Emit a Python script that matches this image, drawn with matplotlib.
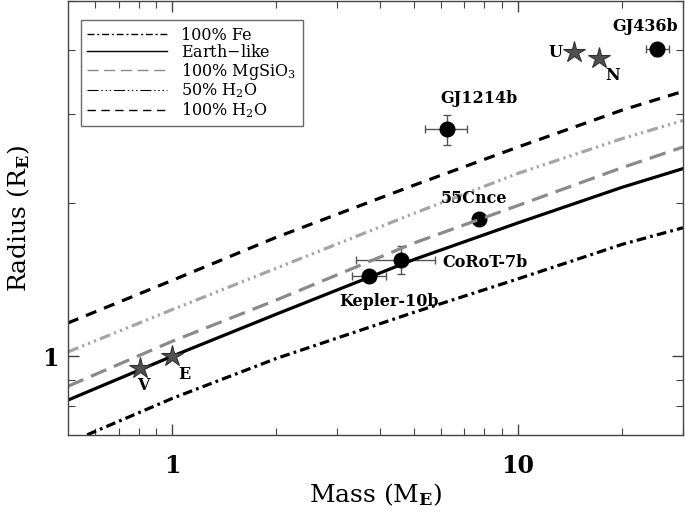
import matplotlib
matplotlib.use("Agg")
import matplotlib.pyplot as plt
from matplotlib.lines import Line2D
from matplotlib.ticker import FixedLocator, NullFormatter, FixedFormatter

plt.rcParams['font.family'] = ['DejaVu Serif']
plt.rcParams['mathtext.fontset'] = 'dejavuserif'
plt.rcParams['lines.scale_dashes'] = False

# --- model curves (mass in Earth masses, radius in Earth radii) ---
mass_grid = [0.5, 1, 2, 5, 10, 20, 30]
r_fe      = [0.675, 0.826, 0.99, 1.22, 1.42, 1.66, 1.79]
r_earth   = [0.82, 1.00, 1.21, 1.55, 1.83, 2.15, 2.34]
r_mgsio3  = [0.873, 1.07, 1.29, 1.67, 1.98, 2.35, 2.58]
r_h2o50   = [1.02, 1.235, 1.49, 1.91, 2.29, 2.68, 2.91]
r_h2o100  = [1.163, 1.41, 1.714, 2.17, 2.58, 3.05, 3.32]

# --- solar system planets ---
ss_names = ['V', 'E', 'U', 'N']
ss_mass  = [0.805, 1.0, 14.5, 17.1]
ss_rad   = [0.948, 1.0, 3.97, 3.86]

# --- exoplanets ---
exo_names = ['GJ436b', 'GJ1214b', '55Cnce', 'CoRoT-7b', 'Kepler-10b']
exo_mass  = [25.2, 6.24, 7.69, 4.59, 3.70]
exo_rad   = [4.02, 2.80, 1.86, 1.55, 1.44]
exo_mlo   = [1.7, 0.84, 0.0, 1.19, 0.39]
exo_mhi   = [2.1, 0.87, 0.0, 1.15, 0.44]
exo_rlo   = [0.12, 0.19, 0.0, 0.10, 0.03]
exo_rhi   = [0.12, 0.18, 0.0, 0.10, 0.03]

fig = plt.figure(figsize=(6.85, 5.11), dpi=100)
ax = fig.add_axes([68/685, 1 - 435/511, 615/685, 434/511])
ax.set_xscale('log')
ax.set_yscale('log')
ax.set_xlim(0.5, 30)
ax.set_ylim(0.7, 5.0)

# error bars + exoplanets (drawn beneath the model curves)
ax.errorbar(exo_mass, exo_rad, xerr=[exo_mlo, exo_mhi], yerr=[exo_rlo, exo_rhi],
            fmt='none', ecolor='#555555', elinewidth=1.0, capsize=3, capthick=1.0, zorder=1.2)
ax.plot(exo_mass, exo_rad, 'o', color='black', ms=10.5, zorder=1.5)

lw = 2.3
ax.plot(mass_grid, r_fe, color='black', lw=lw, dashes=(7, 3, 2, 3), zorder=2)
ax.plot(mass_grid, r_earth, color='black', lw=lw, zorder=2)
ax.plot(mass_grid, r_mgsio3, color='#8a8a8a', lw=lw, dashes=(12, 6), zorder=2)
ax.plot(mass_grid, r_h2o50, color='#a5a5a5', lw=lw, dashes=(8, 3, 1.6, 3, 1.6, 3, 1.6, 3), zorder=2)
ax.plot(mass_grid, r_h2o100, color='black', lw=lw, dashes=(8, 6), zorder=2)

# solar system stars
ax.plot(ss_mass, ss_rad, '*', color='#505050', mec='#303030', mew=0.8, ms=16, zorder=5)

lab_font = dict(fontsize=11.5, fontweight='bold', family='DejaVu Serif')
ss_off = [(3, -12.5), (9, -13), (-13, -0.7), (10, -12.5)]
for n, m, r, o in zip(ss_names, ss_mass, ss_rad, ss_off):
    ax.annotate(n, (m, r), xytext=o, textcoords='offset points', ha='center', va='center', **lab_font)

exo_off = [(-8.6, 16.6), (23, 21.6), (-3.6, 15), (29.5, -2), (14.8, -18.7)]
exo_ha = ['center', 'center', 'center', 'left', 'center']
for n, m, r, o, h in zip(exo_names, exo_mass, exo_rad, exo_off, exo_ha):
    ax.annotate(n, (m, r), xytext=o, textcoords='offset points', ha=h, va='center', **lab_font)

# ticks
ax.xaxis.set_major_locator(FixedLocator([1, 10]))
ax.xaxis.set_major_formatter(FixedFormatter(['1', '10']))
ax.xaxis.set_minor_locator(FixedLocator([0.6, 0.7, 0.8, 0.9, 2, 3, 4, 5, 6, 7, 8, 9, 20, 30]))
ax.xaxis.set_minor_formatter(NullFormatter())
ax.yaxis.set_major_locator(FixedLocator([1]))
ax.yaxis.set_major_formatter(FixedFormatter(['1']))
ax.yaxis.set_minor_locator(FixedLocator([0.8, 0.9, 2, 3, 4, 5]))
ax.yaxis.set_minor_formatter(NullFormatter())
ax.tick_params(which='both', direction='in', top=True, right=True, color='#444444')
ax.tick_params(which='major', length=8, width=1, labelsize=17)
ax.tick_params(axis='x', which='major', pad=14)
ax.tick_params(axis='y', which='major', pad=7)
ax.tick_params(which='minor', length=5, width=0.8)
for lbl in ax.get_xticklabels() + ax.get_yticklabels():
    lbl.set_fontweight('bold')
for s in ax.spines.values():
    s.set_color('#444444')
    s.set_linewidth(1.0)

ax.set_xlabel('Mass (M$_\\mathbf{E}$)', fontsize=18, labelpad=2)
ax.set_ylabel('Radius (R$_\\mathbf{E}$)', fontsize=18, labelpad=7)

handles = [
    Line2D([], [], color='black', lw=1, dashes=(5, 2, 1.5, 2)),
    Line2D([], [], color='black', lw=1),
    Line2D([], [], color='#8a8a8a', lw=1, dashes=(8, 4)),
    Line2D([], [], color='black', lw=0.8, dashes=(8, 2, 1, 2, 1, 2, 1, 2)),
    Line2D([], [], color='black', lw=1, dashes=(6, 4)),
]
labels = ['100% Fe', 'Earth$-$like', '100% MgSiO$_3$', '50% H$_2$O', '100% H$_2$O']
leg = ax.legend(handles, labels, loc='upper left', bbox_to_anchor=(0.0207, 0.9555),
                borderaxespad=0.0,
                fontsize=11.5, frameon=True, fancybox=False, handlelength=5.0,
                borderpad=0.4, labelspacing=0.0, handletextpad=0.9)
leg.get_frame().set_edgecolor('#444444')
leg.get_frame().set_linewidth(1.0)

fig.savefig('out.png', dpi=100)
